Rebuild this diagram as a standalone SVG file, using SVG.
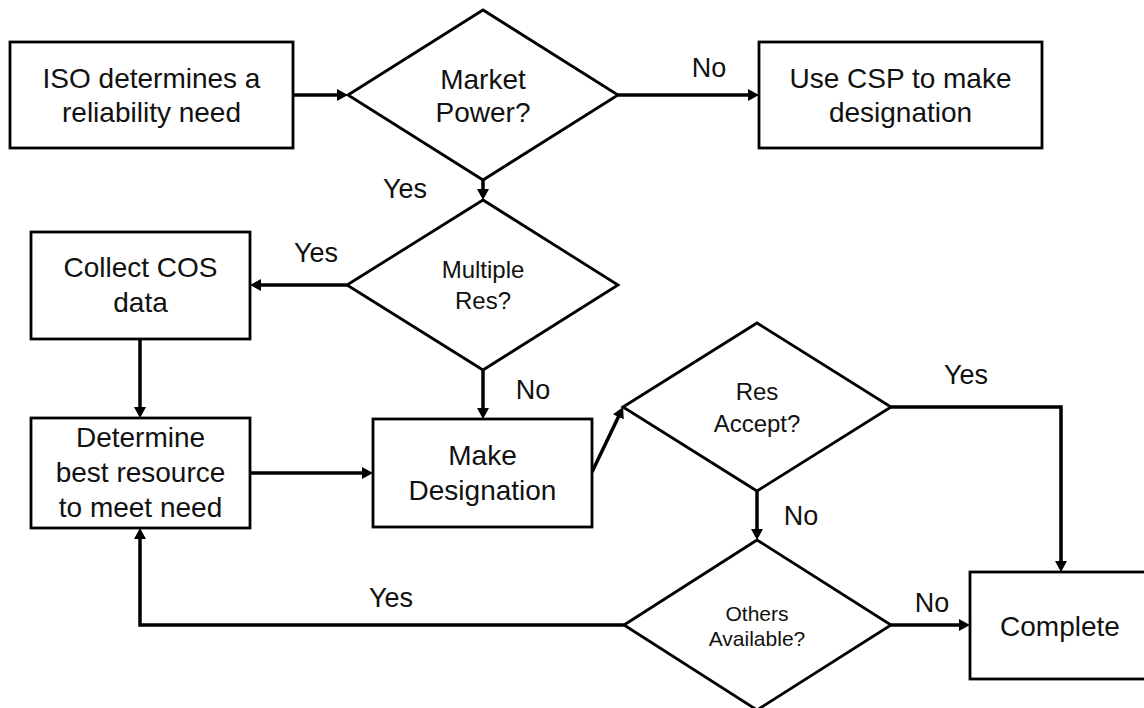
<svg xmlns="http://www.w3.org/2000/svg" width="1144" height="708" viewBox="0 0 1144 708">
<defs>
<marker id="ah" markerUnits="userSpaceOnUse" markerWidth="12" markerHeight="12" refX="5" refY="6" orient="auto">
<path d="M0,0 L11,6 L0,12 z" fill="#000"/>
</marker>
<style>
.box{fill:#fff;stroke:#000;stroke-width:2.8}
.dia{fill:#fff;stroke:#000;stroke-width:2.8}
.t{font-family:"Liberation Sans",Arial,sans-serif;font-size:28px;fill:#111;text-anchor:middle}
.s24{font-size:24px}
.s22{font-size:21px}
.lbl{font-family:"Liberation Sans",Arial,sans-serif;font-size:27px;fill:#111;text-anchor:middle}
.c{fill:none;stroke:#000;stroke-width:3.5;marker-end:url(#ah)}
.cn{fill:none;stroke:#000;stroke-width:3.5}
</style>
</defs>
<rect width="1144" height="708" fill="#fff"/>

<g id="connectors">
<path class="c" d="M293,95 H342"/>
<path class="c" d="M618,95 H753"/>
<path class="c" d="M483,180 V194"/>
<path class="c" d="M347,285 H256"/>
<path class="c" d="M140,339 V412"/>
<path class="c" d="M483,370 V413"/>
<path class="c" d="M250,473 H367"/>
<path class="c" d="M592,472 L620.5,412.4"/>
<path class="c" d="M891,407 H1061 V566"/>
<path class="c" d="M757,491 V534"/>
<path class="c" d="M891,625 H964"/>
<path class="c" d="M624,625 H140 V534"/>
<text class="lbl" x="709" y="77">No</text>
<text class="lbl" x="405" y="198">Yes</text>
<text class="lbl" x="316" y="262">Yes</text>
<text class="lbl" x="533" y="399">No</text>
<text class="lbl" x="966" y="384">Yes</text>
<text class="lbl" x="801" y="525">No</text>
<text class="lbl" x="932" y="612">No</text>
<text class="lbl" x="391" y="607">Yes</text>
</g>

<g id="iso">
<rect class="box" x="10" y="42" width="283" height="106"/>
<text class="t" x="151.5" y="88">ISO determines a</text>
<text class="t" x="151.5" y="122">reliability need</text>
</g>

<g id="market-power">
<polygon class="dia" points="348,95 483,10 618,95 483,180"/>
<text class="t" x="483" y="89">Market</text>
<text class="t" x="483" y="122">Power?</text>
</g>

<g id="csp">
<rect class="box" x="759" y="42" width="283" height="106"/>
<text class="t" x="900.5" y="88">Use CSP to make</text>
<text class="t" x="900.5" y="122">designation</text>
</g>

<g id="multiple-res">
<polygon class="dia" points="347,285 483,200 618,285 483,370"/>
<text class="t s24" x="483" y="278">Multiple</text>
<text class="t s24" x="483" y="309">Res?</text>
</g>

<g id="collect-cos">
<rect class="box" x="31" y="232" width="219" height="107"/>
<text class="t" x="140.5" y="277">Collect COS</text>
<text class="t" x="140.5" y="312">data</text>
</g>

<g id="determine">
<rect class="box" x="31" y="418" width="219" height="110"/>
<text class="t" x="140.5" y="447">Determine</text>
<text class="t" x="140.5" y="482">best resource</text>
<text class="t" x="140.5" y="517">to meet need</text>
</g>

<g id="make-designation">
<rect class="box" x="373" y="419" width="219" height="108"/>
<text class="t" x="482.5" y="465">Make</text>
<text class="t" x="482.5" y="500">Designation</text>
</g>

<g id="res-accept">
<polygon class="dia" points="623,407 757,323 891,407 757,491"/>
<text class="t s24" x="757" y="400">Res</text>
<text class="t s24" x="757" y="432">Accept?</text>
</g>

<g id="others-available">
<polygon class="dia" points="624,625 757,540 891,625 757,710"/>
<text class="t s22" x="757" y="621">Others</text>
<text class="t s22" x="757" y="646">Available?</text>
</g>

<g id="complete">
<rect class="box" x="970" y="572" width="180" height="107"/>
<text class="t" x="1060" y="636">Complete</text>
</g>
</svg>
